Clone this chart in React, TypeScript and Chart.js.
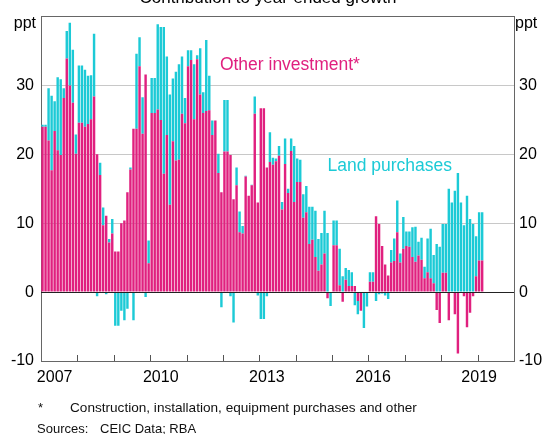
import React, { useEffect, useRef } from "react";
import { Chart, registerables } from "chart.js";
Chart.register(...registerables);

// Monthly contributions (ppt), Jan 2007 onwards
const otherInvestment = [
  24, 24, 22, 17.7, 23.4, 20.6, 19.9, 28.2, 33.9, 30, 27.5, 20.1,
  24.6, 24.6, 24, 24.4, 25.1, 28.4, 20, 17, 9.7, 11.1, 7.2, 8.5,
  5.9, 5.9, 10, 10.4, 14.5, 17.8, 23.7, 23.7, 32.8, 23, 31.6, 4.2,
  26, 26, 26.5, 25, 17.2, 22.8, 12.7, 21.9, 19.1, 19.2, 25.9, 24.5,
  32.8, 33.7, 25.1, 33.8, 28.7, 26, 26.3, 26.4, 22.8, 24.9, 17.3, 14.5,
  20.4, 20.4, 19.9, 13.5, 15.5, 8.7, 8.5, 16.8, 14, 15.5, 25.9, 13,
  26.7, 26.7, 18.1, 18.9, 18.5, 19, 19.8, 12, 18.6, 14.4, 20.5, 13.1,
  16, 16, 10.8, 11.6, 7, 7.6, 5.1, 3.1, 4, 5.6, -0.9, 0,
  6.8, 6.8, 1, -1.4, 1.8, 0.9, 0.9, 0.9, -1.3, -2.7, 0, 0,
  1.5, 1.5, 11, 9.9, 6.7, 4, 2.4, 4.3, 4.5, 8.7, 4.3, 6.3,
  6.7, 6.6, 5.1, 4.4, 5.3, 4.7, 2, 2.9, 2, 1.3, -2.6, -4.5,
  2.8, 2.8, -4.1, 0, -3.2, -8.9, 0, -0.6, -5.1, -3, -0.6, 2.3,
  4.6, 4.6,
];

const landPurchases = [
  0.3, 0.3, 7.6, 10.8, 4.3, 10.6, 11, 1.4, 4, 9.1, 7.7, 2.8,
  8.3, 8.3, 8.3, 7, 6.4, 9.1, -0.6, 1.8, 2.6, -0.3, 0.5, 2.1,
  -4.9, -4.9, -2.7, -4.1, -2.4, 0.3, -4.1, 10.9, 4.2, 5.3, -0.7, 3.3,
  5.1, 5.1, 12.4, 13.5, 21.3, 11.4, 16, 9.1, 12.9, 13.9, 8.3, 3.7,
  2.3, 1.4, 8, 0.6, 6.7, 3, 10.3, 5, 2.1, 0, 2.8, -2.2,
  7.5, 7.5, -0.6, -4.4, 2.6, 3, 1.1, 0.1, 0, 0.1, 2.5, -0.5,
  -3.9, -3.9, -0.6, 4.3, 1, 0.4, 1.4, 1.1, 3.7, 0.6, 1.8, 8.1,
  3.4, 3.2, 3.4, 3.8, 5.4, 4.8, 6.7, 4.6, 4.6, 6.2, 8.6, -2,
  3.6, 3.6, 5.3, 2.3, 1.7, 2.3, 2, -1.9, -1.9, 0, -5.2, -2.1,
  1.4, 1.4, -1.3, -0.3, -0.2, -0.5, -1, 1.8, 3.3, 4.6, 1.3, 4.6,
  2.1, 2.2, 4.3, 5.1, 2, 3.2, 1.7, 4.9, 7.2, 4.1, 7, 6.6,
  7.1, 7.1, 15, 13, 14.7, 17.3, 13, 9.7, 14, 10.6, 9.9, 5.8,
  7, 7,
];

const firstYear = 2007;
const lastYear = 2019;
const months: string[] = [];
for (let y = firstYear; y <= lastYear; y++) {
  for (let m = 1; m <= 12; m++) months.push(`${y}-${String(m).padStart(2, "0")}`);
}
const yearLabelMonths = ["2007-05", "2010-04", "2013-03", "2016-02", "2019-01"];
const yTickValues = [-10, 0, 10, 20, 30];

const PINK = "#e0207f";
const CYAN = "#1ccad6";
const FONT = '"Liberation Sans", Arial, sans-serif';

export default function App() {
  const ref = useRef<HTMLCanvasElement>(null);

  useEffect(() => {
    const canvas = ref.current!;
    const overlay = {
      id: "overlay",
      afterDatasetsDraw(chart: any) {
        const { ctx, chartArea: a, scales } = chart;
        const x = scales.x;
        const y = scales.y;
        ctx.save();
        // zero line
        const y0 = Math.round(y.getPixelForValue(0)) + 0.5;
        ctx.strokeStyle = "#222";
        ctx.lineWidth = 1;
        ctx.beginPath();
        ctx.moveTo(a.left, y0);
        ctx.lineTo(a.right, y0);
        ctx.stroke();
        // year tick marks (inside, at year boundaries)
        const half = (x.getPixelForValue(1) - x.getPixelForValue(0)) / 2;
        ctx.strokeStyle = "#555";
        ctx.beginPath();
        months.forEach((m, i) => {
          if (i > 0 && m.endsWith("-01")) {
            const px = Math.round(x.getPixelForValue(i) - half) + 0.5;
            ctx.moveTo(px, a.bottom);
            ctx.lineTo(px, a.bottom - 6);
          }
        });
        ctx.stroke();
        // units
        ctx.font = `16px ${FONT}`;
        ctx.fillStyle = "#000";
        ctx.textBaseline = "middle";
        ctx.textAlign = "right";
        ctx.fillText("ppt", a.left - 5, a.top + 7);
        ctx.textAlign = "left";
        ctx.fillText("ppt", a.right + 1, a.top + 7);
        // series labels
        ctx.font = `17.5px ${FONT}`;
        ctx.fillStyle = PINK;
        ctx.fillText("Other investment*", x.getPixelForValue(58) + 1.5, y.getPixelForValue(33));
        ctx.fillStyle = CYAN;
        ctx.fillText("Land purchases", x.getPixelForValue(94), y.getPixelForValue(18.3));
        ctx.restore();
      },
    };

    const yTickCb = (v: any) => (yTickValues.includes(Number(v)) ? String(v) : "");

    const chart = new Chart(canvas, {
      type: "bar",
      data: {
        labels: months,
        datasets: [
          {
            label: "Other investment",
            data: otherInvestment,
            backgroundColor: PINK,
            borderWidth: 0,
            barPercentage: 0.8,
            categoryPercentage: 1,
          },
          {
            label: "Land purchases",
            data: landPurchases,
            backgroundColor: CYAN,
            borderWidth: 0,
            barPercentage: 0.8,
            categoryPercentage: 1,
          },
        ],
      },
      options: {
        responsive: false,
        animation: false,
        layout: { padding: { top: 12, left: 0, right: 0, bottom: 0 } },
        plugins: {
          legend: { display: false },
          tooltip: { enabled: false },
          title: { display: false },
        },
        scales: {
          x: {
            type: "category",
            stacked: true,
            offset: true,
            grid: { display: true, drawOnChartArea: false, drawTicks: false, offset: true },
            border: { display: true, color: "#666", width: 1 },
            ticks: {
              autoSkip: false,
              maxRotation: 0,
              minRotation: 0,
              padding: 7,
              color: "#000",
              font: { family: FONT, size: 16 },
              callback: (_v: any, i: number) =>
                yearLabelMonths.includes(months[i]) ? months[i].slice(0, 4) : "",
            },
            afterFit: (s: any) => {
              s.height = 73;
            },
          },
          y: {
            stacked: true,
            position: "left",
            min: -10,
            max: 40,
            ticks: {
              stepSize: 10,
              padding: 7,
              color: "#000",
              font: { family: FONT, size: 16 },
              callback: yTickCb,
            },
            grid: {
              drawTicks: false,
              color: (c: any) =>
                c.tick && (c.tick.value === 40 || c.tick.value === -10) ? "#666" : "#c8c8c8",
            },
            border: { display: true, color: "#666" },
            afterFit: (s: any) => {
              s.width = 41;
            },
          },
          y2: {
            position: "right",
            min: -10,
            max: 40,
            ticks: {
              stepSize: 10,
              padding: 5,
              color: "#000",
              font: { family: FONT, size: 16 },
              callback: yTickCb,
            },
            grid: { drawOnChartArea: false, drawTicks: false },
            border: { display: true, color: "#666" },
            afterFit: (s: any) => {
              s.width = 28;
            },
          },
        },
      },
      plugins: [overlay],
    });
    return () => chart.destroy();
  }, []);

  const note: React.CSSProperties = {
    position: "absolute",
    fontSize: 13,
    lineHeight: "15px",
    color: "#111",
    whiteSpace: "nowrap",
  };

  return (
    <div
      style={{
        position: "absolute",
        left: 0,
        top: 0,
        width: 542,
        height: 434,
        overflow: "hidden",
        background: "#fff",
        fontFamily: FONT,
      }}
    >
      <canvas ref={ref} width={542} height={434} style={{ display: "block", width: 542, height: 434 }} />
      <div
        style={{
          position: "absolute",
          left: 0,
          width: 536,
          top: -11,
          fontSize: 17,
          lineHeight: "17px",
          textAlign: "center",
          color: "#000",
          whiteSpace: "nowrap",
        }}
      >
        Contribution to year-ended growth
      </div>
      <div style={{ ...note, left: 38, top: 400 }}>*</div>
      <div style={{ ...note, left: 70, top: 400, fontSize: 13.6 }}>
        Construction, installation, equipment purchases and other
      </div>
      <div style={{ ...note, left: 37, top: 421 }}>Sources:</div>
      <div style={{ ...note, left: 100, top: 421 }}>CEIC Data; RBA</div>
    </div>
  );
}
